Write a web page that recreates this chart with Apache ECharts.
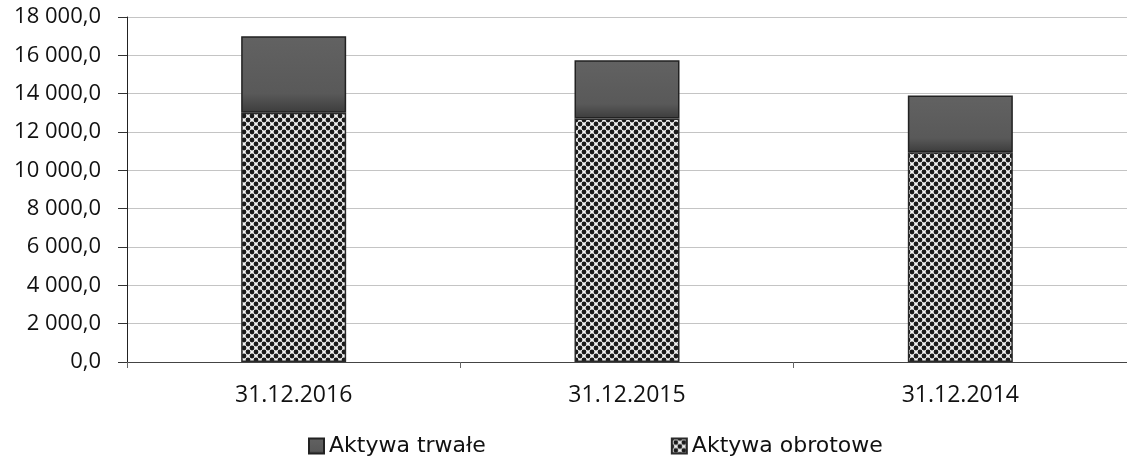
<!DOCTYPE html>
<html>
<head>
<meta charset="utf-8">
<script src="https://cdn.jsdelivr.net/npm/echarts@6/dist/echarts.min.js"></script>
<style>
  html, body { margin: 0; padding: 0; background: #fff; }
  #chart { width: 1127px; height: 461px; }
</style>
</head>
<body>
<div id="chart"></div>
<script>
// data
const categories = ['31.12.2016', '31.12.2015', '31.12.2014'];
const aktywaObrotowe = [13000, 12700, 10950];
const aktywaTrwale = [4000, 3050, 2950];
const yTicks = [0, 2000, 4000, 6000, 8000, 10000, 12000, 14000, 16000, 18000];

// checkered fill like the scanned print
function checkerPattern() {
  const c = document.createElement('canvas');
  c.width = 8;
  c.height = 8;
  const ctx = c.getContext('2d');
  ctx.fillStyle = '#f2f2f2';
  ctx.fillRect(0, 0, 8, 8);
  ctx.fillStyle = '#1a1a1a';
  [[4, 4], [0, 0], [8, 0], [0, 8], [8, 8]].forEach(function (p) {
    ctx.beginPath();
    ctx.arc(p[0], p[1], 2.4, 0, Math.PI * 2);
    ctx.fill();
  });
  return c;
}

function fmt(v) {
  const s = String(Math.round(v));
  return s.replace(/\B(?=(\d{3})+(?!\d))/g, ' ') + ',0';
}

const chart = echarts.init(document.getElementById('chart'));
chart.setOption({
  animation: false,
  backgroundColor: '#fff',
  legend: {
    data: ['Aktywa trwałe', 'Aktywa obrotowe'],
    top: 430,
    left: 303,
    icon: 'rect',
    itemWidth: 15,
    itemHeight: 15,
    itemGap: 185,
    textStyle: { fontFamily: 'DejaVu Sans', fontSize: 22, color: '#111' }
  },
  grid: { left: 127, right: 0, top: 17, bottom: 99 },
  xAxis: {
    type: 'category',
    data: categories,
    axisLine: { lineStyle: { color: '#444', width: 1 } },
    axisTick: { show: true, length: 6, lineStyle: { color: '#666' } },
    axisLabel: { margin: 22, fontFamily: 'Open Sans', fontSize: 23, color: '#111' }
  },
  yAxis: {
    type: 'value',
    min: yTicks[0],
    max: yTicks[yTicks.length - 1],
    interval: 2000,
    axisLine: { show: true, lineStyle: { color: '#222', width: 1 } },
    axisTick: { show: true, length: 9, lineStyle: { color: '#333' } },
    axisLabel: { margin: 26, fontFamily: 'Open Sans', fontSize: 22, color: '#111', formatter: fmt },
    splitLine: { lineStyle: { color: '#c4c4c4', width: 1 } }
  },
  series: [
    {
      name: 'Aktywa obrotowe',
      type: 'bar',
      stack: 'total',
      barWidth: 105,
      data: aktywaObrotowe,
      itemStyle: {
        color: { image: checkerPattern(), repeat: 'repeat' },
        borderColor: '#2a2a2a',
        borderWidth: 1.5
      }
    },
    {
      name: 'Aktywa trwałe',
      type: 'bar',
      stack: 'total',
      barWidth: 105,
      data: aktywaTrwale,
      itemStyle: {
        color: {
          type: 'linear', x: 0, y: 0, x2: 0, y2: 1,
          colorStops: [
            { offset: 0, color: '#626262' },
            { offset: 0.75, color: '#595959' },
            { offset: 1, color: '#3c3c3c' }
          ]
        },
        borderColor: '#222',
        borderWidth: 1.5
      }
    }
  ]
});
</script>
</body>
</html>
